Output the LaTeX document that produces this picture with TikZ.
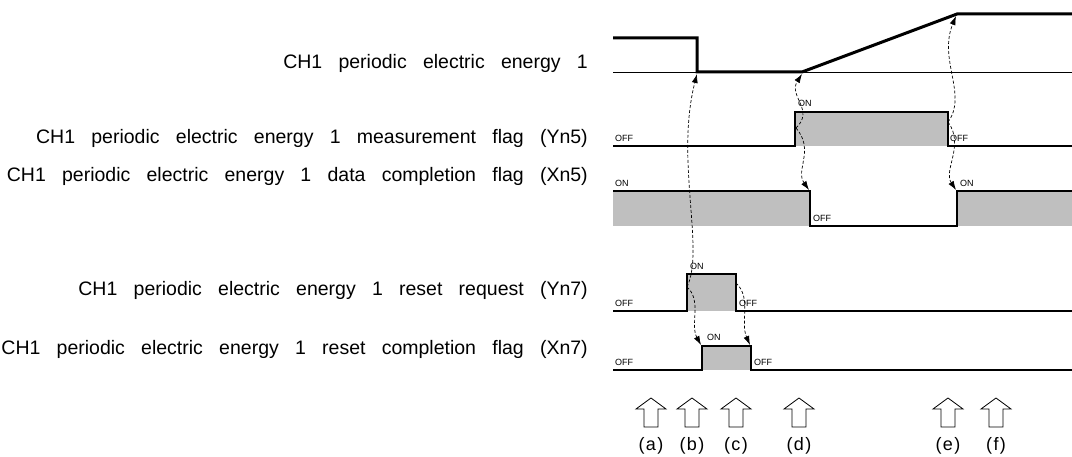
\documentclass[tikz,border=0pt]{standalone}
\usepackage{fontspec}
\setmainfont{Liberation Sans}[WordSpace=3.0]
\usepackage{tikz}
\usetikzlibrary{calc}
\usetikzlibrary{arrows.meta,positioning}
\usepackage{xcolor}
\definecolor{flaggray}{rgb}{0.75,0.75,0.75}
\newcommand{\fs}[1]{\fontsize{#1}{#1}\selectfont}

\begin{document}
\begin{tikzpicture}[x=1pt,y=-1pt,
    sig/.style={line width=1.1pt},
    base/.style={line width=0.9pt},
    level/.style={line width=3pt},
    cause/.style={line width=0.7pt,dash pattern=on 3pt off 2pt,-{Latex[length=9pt,width=6pt]}},
    signame/.style={font=\fs{19.5},inner sep=0pt,anchor=base east},
    onoff/.style={font=\fs{9},inner sep=0pt,anchor=base west},
    tag/.style={font=\fs{18},inner sep=0pt}]
  \useasboundingbox (0,0) rectangle (1072,457);

  % signal names
  \node[signame] (N-E)  at (588,69)  {CH1 periodic electric energy 1};
  \node[signame] (N-Y5) at (588,144) {CH1 periodic electric energy 1 measurement flag (Yn5)};
  \node[signame] (N-X5) at (588,182) {CH1 periodic electric energy 1 data completion flag (Xn5)};
  \node[signame] (N-Y7) at (588,296) {CH1 periodic electric energy 1 reset request (Yn7)};
  \node[signame] (N-X7) at (588,355) {CH1 periodic electric energy 1 reset completion flag (Xn7)};

  % grey high parts
  \fill[flaggray] (795,112) rectangle (948,146);
  \fill[flaggray] (613,191) rectangle (810,226);
  \fill[flaggray] (957,191) rectangle (1072,226);
  \fill[flaggray] (687,274) rectangle (736,311);
  \fill[flaggray] (702,346) rectangle (751,370);

  % energy value
  \draw[base] (613,72) -- (1072,72);
  \draw[level] (613,38) -- (697,38) -- (697,72) -- (802,72) -- (957,14) -- (1072,14);

  % flags
  \draw[sig] (613,146) -- (795,146) -- (795,112) -- (948,112) -- (948,146) -- (1072,146);
  \draw[sig] (613,191) -- (810,191) -- (810,226) -- (957,226) -- (957,191) -- (1072,191);
  \draw[sig] (613,311) -- (687,311) -- (687,274) -- (736,274) -- (736,311) -- (1072,311);
  \draw[sig] (613,370) -- (702,370) -- (702,346) -- (751,346) -- (751,370) -- (1072,370);

  % ON / OFF
  \node[onoff] (Y5-off1) at (615,142) {OFF};
  \node[onoff] (Y5-on)   at (798,107) {ON};
  \node[onoff] (Y5-off2) at (950,142) {OFF};
  \node[onoff] (X5-on1)  at (615,187) {ON};
  \node[onoff] (X5-off)  at (813,222) {OFF};
  \node[onoff] (X5-on2)  at (960,187) {ON};
  \node[onoff] (Y7-off1) at (615,307) {OFF};
  \node[onoff] (Y7-on)   at (690,270) {ON};
  \node[onoff] (Y7-off2) at (739,307) {OFF};
  \node[onoff] (X7-off1) at (615,366) {OFF};
  \node[onoff] (X7-on)   at (707,341) {ON};
  \node[onoff] (X7-off2) at (754,366) {OFF};

  % edges
  \coordinate (Y7r) at (687,287);
  \coordinate (Y7f) at (736,283);
  \coordinate (Y5r) at (796,128);
  \coordinate (Y5f) at (948,122);
  \coordinate (E1) at (697,74);
  \coordinate (E2) at (802,74);
  \coordinate (E3) at (956,16);
  \coordinate (X7r) at (701,345);
  \coordinate (X7f) at (750,345);
  \coordinate (X5f) at (809,190);
  \coordinate (X5r) at (956,190);

  \draw[cause] (Y7r) .. controls (705,250) and (675,160) .. (E1);
  \draw[cause] (Y7r) .. controls (702,300) and (690,325) .. (X7r);
  \draw[cause] (Y7f) .. controls (752,298) and (740,322) .. (X7f);
  \draw[cause] (Y5r) .. controls (815,110) and (788,96) .. (E2);
  \draw[cause] (Y5r) .. controls (815,150) and (795,170) .. (X5f);
  \draw[cause] (Y5f) .. controls (968,95) and (938,60) .. (E3);
  \draw[cause] (Y5f) .. controls (965,145) and (943,170) .. (X5r);

  % timing points
  \foreach \px/\t in {651/a,692/b,736/c,799/d,948/e,996/f}{
    \draw[line width=0.8pt] (\px-7,427) -- (\px-7,409) -- (\px-15,409) -- (\px,398)
      -- (\px+15,409) -- (\px+7,409) -- (\px+7,427) -- cycle;
    \coordinate (P-\t) at (\px,427);
    \node[tag,below=10pt of P-\t] (T-\t) {(\kern1.5pt\t\kern1.5pt)};
  }
\end{tikzpicture}
\end{document}
